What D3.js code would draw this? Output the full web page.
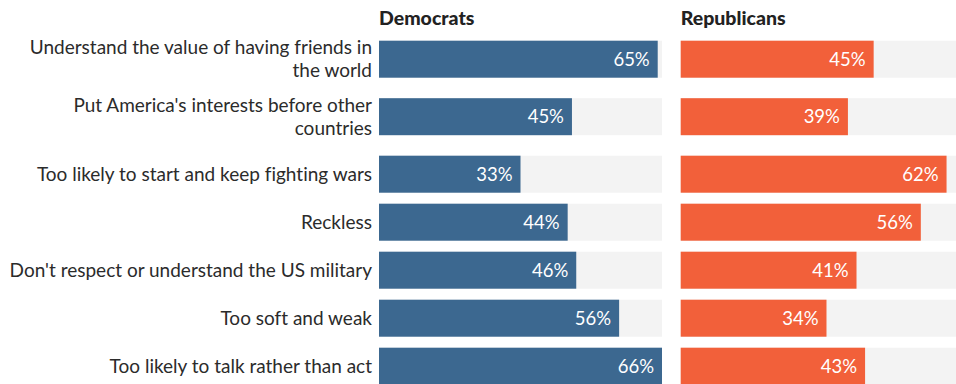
<!DOCTYPE html>
<html>
<head>
<meta charset="utf-8">
<script src="https://cdn.jsdelivr.net/npm/d3@7/dist/d3.min.js"></script>
<style>
  html, body { margin: 0; padding: 0; background: #ffffff; }
  svg { display: block; font-family: Lato, "Noto Sans", sans-serif; font-variant-ligatures: none; }
</style>
</head>
<body>
<svg id="chart" width="956" height="384"></svg>
<script>
// Survey statements (each array entry is one line of the label)
const statements = [
  ["Understand the value of having friends in", "the world"],
  ["Put America's interests before other", "countries"],
  ["Too likely to start and keep fighting wars"],
  ["Reckless"],
  ["Don't respect or understand the US military"],
  ["Too soft and weak"],
  ["Too likely to talk rather than act"]
];
const parties = ["Democrats", "Republicans"];
const democrats = [65, 45, 33, 44, 46, 56, 66];
const republicans = [45, 39, 62, 56, 41, 34, 43];

const W = 956, H = 384;
const svg = d3.select("#chart");

const barH = 37;
const rowTop = 40.7;
const singleStep = 48;
const doubleStep = 57.5;

// vertical layout: two-line labels take a taller row
const rowY = [];
statements.reduce((y, lines) => {
  rowY.push(y);
  return y + (lines.length > 1 ? doubleStep : singleStep);
}, rowTop);

const maxVal = d3.max(democrats.concat(republicans));
const panelW = 283;
const panels = [
  { name: parties[0], values: democrats, x0: 379, color: "#3c6890" },
  { name: parties[1], values: republicans, x0: 680.7, color: "#f2603a" }
];

// category labels
const labelG = svg.append("g");
statements.forEach((lines, i) => {
  const cy = rowY[i] + barH / 2;
  const lh = 22.7;
  const t = labelG.append("text")
    .attr("text-anchor", "end")
    .attr("fill", "#2b2b2b")
    .attr("font-size", 19);
  lines.forEach((ln, j) => {
    const off = (j - (lines.length - 1) / 2) * lh;
    t.append("tspan")
      .attr("x", 372)
      .attr("y", cy + off + 6.6)
      .text(ln);
  });
});

panels.forEach(p => {
  const x = d3.scaleLinear().domain([0, maxVal]).range([p.x0, p.x0 + panelW]);
  const g = svg.append("g");

  g.append("text")
    .attr("x", p.x0)
    .attr("y", 24.5)
    .attr("font-size", 19.5)
    .attr("font-weight", 900)
    .attr("fill", "#222")
    .text(p.name);

  // background track up to the maximum value
  g.selectAll("rect.bg")
    .data(p.values)
    .join("rect")
    .attr("class", "bg")
    .attr("x", x(0))
    .attr("y", (d, i) => rowY[i])
    .attr("width", x(maxVal) - x(0))
    .attr("height", barH)
    .attr("fill", "#f3f3f3");

  g.selectAll("rect.bar")
    .data(p.values)
    .join("rect")
    .attr("class", "bar")
    .attr("x", x(0))
    .attr("y", (d, i) => rowY[i])
    .attr("width", d => x(d) - x(0))
    .attr("height", barH)
    .attr("fill", p.color);

  g.selectAll("text.val")
    .data(p.values)
    .join("text")
    .attr("class", "val")
    .attr("x", d => x(d) - 8)
    .attr("y", (d, i) => rowY[i] + barH / 2 + 6.4)
    .attr("text-anchor", "end")
    .attr("font-size", 18.5)
    .attr("fill", "#ffffff")
    .text(d => d + "%");
});
</script>
</body>
</html>
